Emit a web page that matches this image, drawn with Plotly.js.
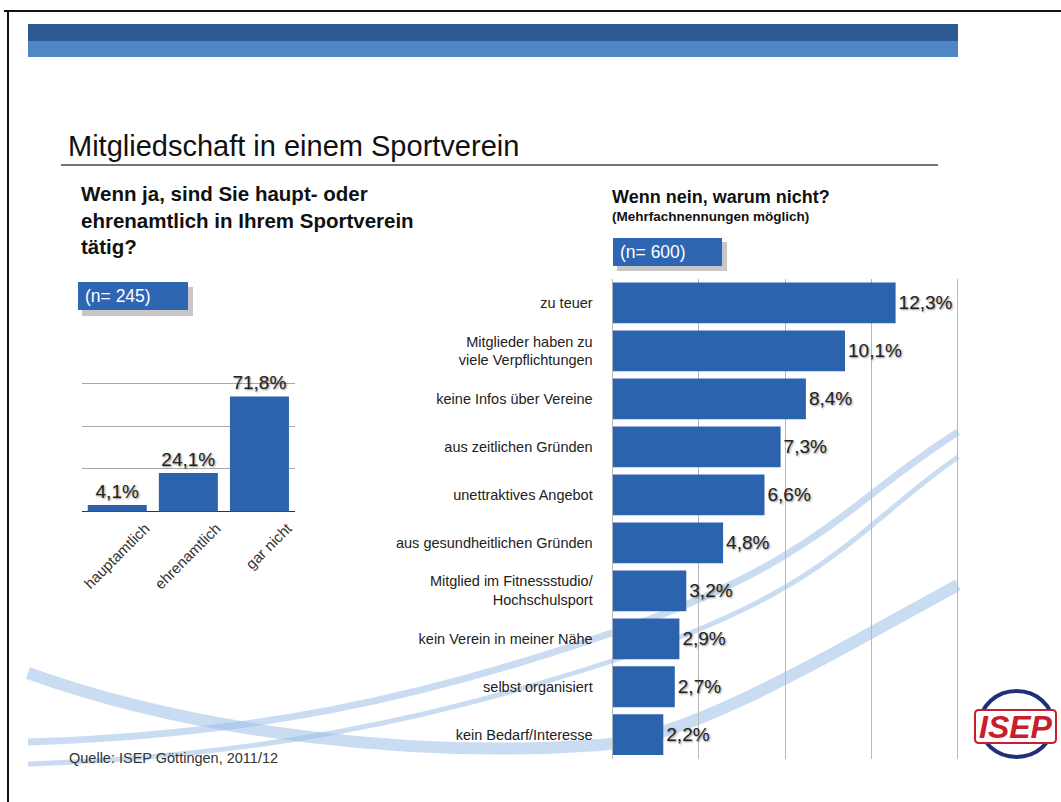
<!DOCTYPE html>
<html>
<head>
<meta charset="utf-8">
<script src="https://cdn.plot.ly/plotly-3.0.1.min.js"></script>
<style>
  html, body { margin: 0; padding: 0; background: #ffffff; }
  #chart { width: 1061px; height: 802px; }
</style>
</head>
<body>
<div id="chart"></div>
<script>
// ---- Data ----
const leftCategories = ["hauptamtlich", "ehrenamtlich", "gar nicht"];
const leftValues = [4.1, 24.1, 71.8];

const rightCategories = [
  "zu teuer",
  "Mitglieder haben zu<br>viele Verpflichtungen",
  "keine Infos über Vereine",
  "aus zeitlichen Gründen",
  "unettraktives Angebot",
  "aus gesundheitlichen Gründen",
  "Mitglied im Fitnessstudio/<br>Hochschulsport",
  "kein Verein in meiner Nähe",
  "selbst organisiert",
  "kein Bedarf/Interesse"
];
const rightValues = [12.3, 10.1, 8.4, 7.3, 6.6, 4.8, 3.2, 2.9, 2.7, 2.2];

const leftGridVals = [0, 80 / 3, 160 / 3, 80];
const rightGridVals = [0, 3.75, 7.5, 11.25, 15];

const titleText = "Mitgliedschaft in einem Sportverein";
const leftQuestion = "Wenn ja, sind Sie haupt- oder<br>ehrenamtlich in Ihrem Sportverein<br>tätig?";
const rightQuestion = "Wenn nein, warum nicht?";
const rightNote = "(Mehrfachnennungen möglich)";
const leftN = "(n= 245)";
const rightN = "(n= 600)";
const sourceText = "Quelle: ISEP Göttingen, 2011/12";
const logoText = "ISEP";

// ---- Helpers (pixel -> paper) ----
const W = 1061, H = 802;
const fx = x => x / W;
const fy = y => 1 - y / H;
const pp = (x, y) => fx(x).toFixed(5) + "," + fy(y).toFixed(5);

const FONT = "Liberation Sans, Arial, Helvetica, sans-serif";
const BAR = "#2c63ae";
const TXT = "#222222";
const SHADOW = "1px 1px 2px rgba(0,0,0,0.45)";
const SWOOSH = "rgba(150,185,230,0.5)";

// axis geometry (pixels)
const L_X0 = 81.7, L_X1 = 295, L_BASE = 511.7, L_PXU = 128.4 / 80, L_MAX = 81;
const R_X0 = 612.7, R_PXU = 23, R_MAX = 15.2, R_Y0 = 279, R_Y1 = 758.7;

const traces = [
  {
    type: "bar",
    x: leftCategories,
    y: leftValues,
    xaxis: "x", yaxis: "y",
    width: 0.83,
    marker: { color: BAR },
    texttemplate: "%{y:.1f}%",
    textposition: "outside",
    cliponaxis: false,
    textfont: { family: FONT, size: 19, color: TXT, shadow: SHADOW },
    hoverinfo: "skip"
  },
  {
    type: "bar",
    orientation: "h",
    y: rightCategories,
    x: rightValues,
    xaxis: "x2", yaxis: "y2",
    width: 0.85,
    marker: { color: BAR },
    texttemplate: "%{x:.1f}%",
    textposition: "outside",
    cliponaxis: false,
    textfont: { family: FONT, size: 19, color: TXT, shadow: SHADOW },
    hoverinfo: "skip"
  }
];

const shapes = [
  // slide border (top + left)
  { type: "line", xref: "paper", yref: "paper", x0: fx(4), x1: fx(1061), y0: fy(11), y1: fy(11), line: { color: "#111", width: 2 } },
  { type: "line", xref: "paper", yref: "paper", x0: fx(8), x1: fx(8), y0: fy(11), y1: fy(802), line: { color: "#111", width: 2 } },
  // header bands
  { type: "rect", xref: "paper", yref: "paper", x0: fx(28), x1: fx(958), y0: fy(24), y1: fy(41), fillcolor: "#2d5a94", line: { width: 0 }, layer: "below" },
  { type: "rect", xref: "paper", yref: "paper", x0: fx(28), x1: fx(958), y0: fy(41), y1: fy(57), fillcolor: "#4f86c6", line: { width: 0 }, layer: "below" },
  // title underline
  { type: "line", xref: "paper", yref: "paper", x0: fx(61), x1: fx(938), y0: fy(165), y1: fy(165), line: { color: "#444", width: 1.5 } },
  // decorative swooshes
  { type: "path", xref: "paper", yref: "paper", layer: "below",
    path: "M" + pp(28, 673) + " C" + pp(200, 735) + " " + pp(420, 758) + " " + pp(600, 745) +
          " C" + pp(690, 738.5) + " " + pp(820, 660) + " " + pp(958, 585),
    line: { color: SWOOSH, width: 12 } },
  { type: "path", xref: "paper", yref: "paper", layer: "below",
    path: "M" + pp(28, 742) + " C" + pp(250, 735) + " " + pp(420, 700) + " " + pp(620, 630) +
          " S" + pp(850, 500) + " " + pp(958, 432),
    line: { color: SWOOSH, width: 7 } },
  { type: "path", xref: "paper", yref: "paper", layer: "below",
    path: "M" + pp(28, 764) + " C" + pp(250, 757) + " " + pp(430, 722) + " " + pp(630, 655) +
          " S" + pp(860, 525) + " " + pp(958, 457),
    line: { color: SWOOSH, width: 5 } },
  // n boxes (shadow + box)
  { type: "rect", xref: "paper", yref: "paper", x0: fx(82), x1: fx(193), y0: fy(287), y1: fy(316), fillcolor: "rgba(0,0,0,0.22)", line: { width: 0 } },
  { type: "rect", xref: "paper", yref: "paper", x0: fx(78), x1: fx(188), y0: fy(282), y1: fy(310), fillcolor: "#2f66b3", line: { width: 0 } },
  { type: "rect", xref: "paper", yref: "paper", x0: fx(617), x1: fx(727), y0: fy(242), y1: fy(271), fillcolor: "rgba(0,0,0,0.22)", line: { width: 0 } },
  { type: "rect", xref: "paper", yref: "paper", x0: fx(613), x1: fx(722), y0: fy(238), y1: fy(266), fillcolor: "#2f66b3", line: { width: 0 } },
  // logo
  { type: "circle", xref: "paper", yref: "paper", x0: fx(980), x1: fx(1053), y0: fy(691), y1: fy(757), fillcolor: "#ffffff", line: { color: "#1f2f78", width: 4 } },
  { type: "path", xref: "paper", yref: "paper",
    path: "M" + pp(979, 710) + " L" + pp(1052, 710) + " Q" + pp(1056, 710) + " " + pp(1056, 714) +
          " L" + pp(1056, 739) + " Q" + pp(1056, 743) + " " + pp(1052, 743) +
          " L" + pp(979, 743) + " Q" + pp(975, 743) + " " + pp(975, 739) +
          " L" + pp(975, 714) + " Q" + pp(975, 710) + " " + pp(979, 710) + " Z",
    fillcolor: "#ffffff", line: { color: "#c8202a", width: 2 } }
];

const ann = (text, x, y, size, color, opts) => Object.assign({
  text: text, xref: "paper", yref: "paper", x: fx(x), y: fy(y),
  xanchor: "left", yanchor: "middle", showarrow: false,
  font: { family: FONT, size: size, color: color || "#111" }, align: "left"
}, opts || {});

const annotations = [
  ann(titleText, 66, 146, 29),
  ann("<b>" + leftQuestion + "</b>", 79, 220, 20.5),
  ann("<b>" + rightQuestion + "</b>", 610, 197, 18),
  ann("<b>" + rightNote + "</b>", 610, 216, 13.5),
  ann(leftN, 83, 296, 17.5, "#ffffff"),
  ann(rightN, 618, 252, 17.5, "#ffffff"),
  ann(sourceText, 67, 758, 14.5, "#333"),
  ann("<b><i>" + logoText + "</i></b>", 1016, 727, 32, "#c8202a", { xanchor: "center" })
];

const layout = {
  width: W, height: H,
  margin: { l: 0, r: 0, t: 0, b: 0, pad: 0 },
  paper_bgcolor: "#ffffff",
  plot_bgcolor: "rgba(0,0,0,0)",
  showlegend: false,
  separators: ",.",
  font: { family: FONT, color: TXT },
  xaxis: {
    domain: [fx(L_X0), fx(L_X1)],
    type: "category",
    showgrid: false, zeroline: false, showline: false,
    ticks: "", tickangle: -45,
    ticklabelshift: 28, ticklabelstandoff: 4,
    tickfont: { family: FONT, size: 15, color: "#333" },
    fixedrange: true
  },
  yaxis: {
    domain: [fy(L_BASE), fy(L_BASE - L_MAX * L_PXU)],
    range: [0, L_MAX],
    tickmode: "array", tickvals: leftGridVals,
    showticklabels: false, ticks: "",
    showgrid: true, gridcolor: "#a8a8a8", gridwidth: 1,
    zeroline: true, zerolinecolor: "#333", zerolinewidth: 1.5,
    showline: false, fixedrange: true
  },
  xaxis2: {
    domain: [fx(R_X0), fx(R_X0 + R_MAX * R_PXU)],
    anchor: "y2",
    range: [0, R_MAX],
    tickmode: "array", tickvals: rightGridVals,
    showticklabels: false, ticks: "",
    showgrid: true, gridcolor: "#b8b8b8", gridwidth: 1,
    zeroline: true, zerolinecolor: "#b8b8b8", zerolinewidth: 1,
    showline: false, fixedrange: true
  },
  yaxis2: {
    domain: [fy(R_Y1), fy(R_Y0)],
    anchor: "x2",
    type: "category",
    autorange: "reversed",
    showgrid: false, zeroline: false, showline: false,
    ticks: "", ticklabelstandoff: 19,
    tickfont: { family: FONT, size: 14.5, color: TXT },
    fixedrange: true
  },
  shapes: shapes,
  annotations: annotations
};

Plotly.newPlot("chart", traces, layout, { staticPlot: true, displayModeBar: false });
</script>
</body>
</html>
